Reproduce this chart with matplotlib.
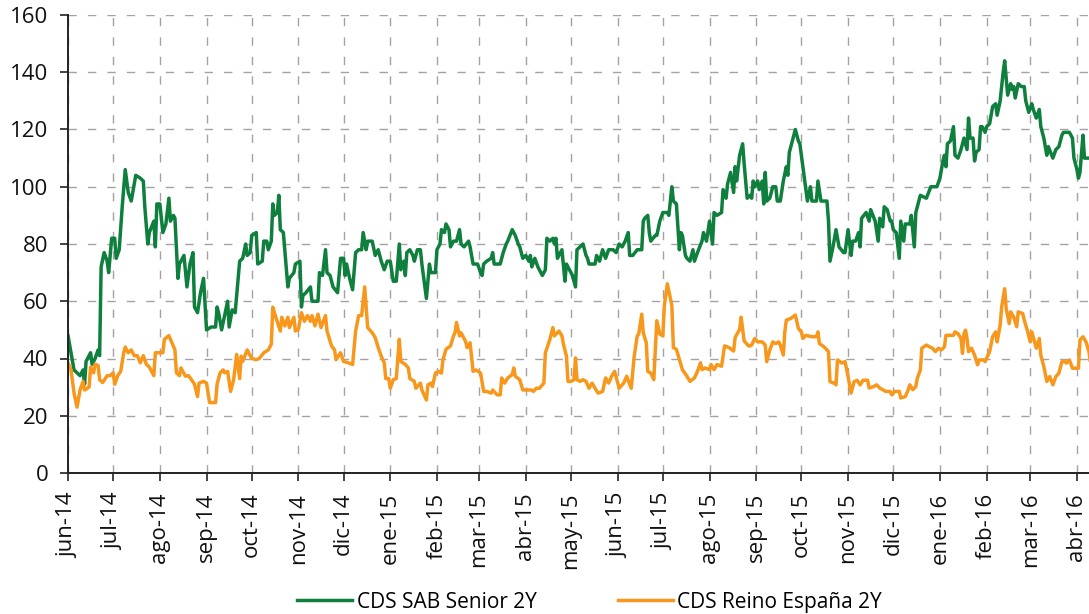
import matplotlib
matplotlib.use('Agg')
import matplotlib.pyplot as plt
import matplotlib.dates as mdates
from matplotlib.ticker import FuncFormatter
import pandas as pd

plt.rcParams['font.family'] = ['Open Sans', 'DejaVu Sans']

start = pd.Timestamp('2014-06-01')
end_days = 678

series_names = ['CDS SAB Senior 2Y', 'CDS Reino España 2Y']
month_labels = ['ene', 'feb', 'mar', 'abr', 'may', 'jun', 'jul', 'ago', 'sep', 'oct', 'nov', 'dic']

# days since 2014-06-01 and values (bp)
sab_days = [0, 4, 6, 8, 10, 11, 12, 15, 16, 18, 20, 21, 22, 24, 26, 27, 29, 31, 32, 34, 36, 38, 40, 42, 43, 45, 48, 50, 51, 53,
            54, 57, 58, 59, 61, 63, 65, 67, 68, 70, 71, 73, 74, 77, 79, 81, 83, 84, 86, 88, 90, 92, 95, 98, 99, 100, 102, 104, 106, 107,
            109, 111, 114, 116, 118, 119, 121, 122, 125, 126, 129, 130, 132, 133, 135, 136, 137, 139, 140, 141, 143, 146, 147, 150, 151, 154, 155, 156, 158, 161,
            162, 166, 167, 169, 171, 172, 174, 176, 179, 181, 183, 184, 185, 187, 189, 191, 193, 195, 196, 198, 199, 202, 204, 206, 208, 210, 212, 214, 216, 218,
            220, 221, 223, 224, 225, 227, 229, 230, 232, 234, 235, 238, 240, 241, 244, 245, 247, 248, 250, 251, 253, 254, 256, 258, 260, 261, 263, 266, 267, 269,
            272, 274, 275, 276, 278, 281, 282, 283, 287, 289, 291, 292, 295, 297, 299, 300, 302, 304, 306, 307, 308, 310, 312, 313, 315, 317, 318, 320, 322, 323,
            324, 325, 327, 328, 330, 331, 333, 335, 337, 338, 340, 342, 344, 345, 346, 350, 351, 353, 355, 357, 359, 362, 364, 366, 368, 370, 372, 373, 375, 378,
            381, 382, 383, 385, 386, 387, 390, 391, 393, 395, 398, 399, 401, 402, 404, 406, 407, 408, 410, 411, 413, 415, 416, 418, 421, 422, 424, 426, 428, 429,
            431, 434, 435, 437, 438, 440, 442, 443, 444, 446, 448, 449, 451, 453, 454, 455, 456, 458, 459, 461, 462, 463, 464, 466, 468, 470, 471, 473, 475, 477,
            478, 479, 481, 483, 485, 486, 488, 490, 491, 493, 494, 497, 498, 500, 501, 504, 505, 506, 508, 510, 512, 515, 516, 518, 520, 521, 523, 525, 526, 527,
            530, 532, 533, 536, 538, 539, 541, 542, 544, 546, 547, 548, 550, 552, 553, 555, 556, 559, 560, 562, 563, 566, 570, 573, 577, 579, 581, 582, 583, 584,
            586, 588, 589, 591, 593, 594, 595, 597, 598, 599, 601, 602, 603, 605, 606, 607, 609, 610, 612, 614, 616, 617, 619, 621, 622, 624, 626, 627, 628, 629,
            631, 633, 635, 636, 638, 640, 641, 643, 645, 646, 648, 650, 651, 654, 656, 658, 660, 661, 663, 665, 667, 668, 670, 671, 672, 674, 675, 677, 679]
sab_cds = [48, 36, 35, 34, 36, 31, 39, 42, 38, 40, 43, 41, 72, 77, 74, 70, 82, 82, 75, 78, 93, 106, 98, 95, 98, 104, 103, 102, 93, 80,
           84, 88, 79, 94, 94, 84, 87, 96, 88, 90, 89, 68, 73, 76, 65, 73, 77, 58, 56, 63, 68, 50, 51, 51, 58, 56, 50, 55, 60, 51,
           57, 56, 74, 75, 80, 76, 77, 83, 84, 73, 74, 81, 81, 78, 81, 94, 90, 91, 97, 85, 84, 65, 68, 70, 73, 74, 58, 62, 63, 65,
           60, 60, 70, 69, 78, 70, 69, 65, 63, 75, 75, 69, 73, 68, 64, 77, 78, 78, 84, 78, 81, 81, 76, 78, 74, 71, 74, 74, 67, 67,
           80, 71, 74, 69, 77, 78, 76, 74, 78, 78, 73, 61, 73, 70, 70, 78, 80, 85, 84, 87, 85, 79, 81, 81, 85, 80, 79, 81, 79, 73,
           73, 70, 69, 73, 74, 75, 77, 73, 73, 77, 80, 81, 85, 83, 80, 79, 75, 76, 74, 76, 72, 75, 72, 71, 69, 71, 82, 81, 82, 80,
           82, 75, 77, 78, 67, 73, 71, 69, 65, 78, 79, 80, 76, 75, 73, 73, 76, 74, 78, 75, 78, 78, 77, 80, 79, 81, 84, 76, 76, 78,
           78, 88, 89, 90, 84, 81, 83, 83, 88, 91, 91, 90, 100, 95, 94, 78, 84, 83, 76, 75, 74, 78, 74, 77, 81, 84, 81, 88, 80, 91,
           90, 91, 99, 96, 101, 105, 98, 107, 102, 111, 115, 108, 96, 97, 96, 102, 100, 102, 99, 102, 94, 105, 95, 96, 100, 100, 95, 95, 102, 107,
           104, 112, 116, 120, 116, 115, 107, 99, 95, 100, 95, 95, 102, 95, 95, 95, 88, 74, 79, 85, 79, 77, 77, 85, 76, 81, 81, 84, 79, 89,
           91, 88, 92, 88, 81, 89, 86, 93, 92, 88, 88, 85, 84, 75, 88, 81, 87, 87, 90, 79, 91, 97, 96, 100, 100, 103, 109, 111, 107, 115,
           116, 121, 111, 110, 113, 115, 117, 113, 124, 117, 117, 109, 112, 113, 121, 121, 119, 121, 122, 128, 129, 125, 130, 140, 144, 132, 136, 134, 135, 131,
           136, 135, 135, 130, 126, 129, 127, 124, 127, 121, 117, 111, 114, 110, 113, 114, 118, 119, 119, 119, 117, 110, 106, 103, 105, 118, 110, 110, 110]

esp_days = [0, 2, 4, 6, 8, 10, 11, 14, 15, 17, 18, 20, 21, 23, 26, 28, 30, 31, 33, 35, 37, 38, 40, 42, 44, 46, 48, 50, 52, 54,
            57, 58, 61, 63, 64, 67, 69, 71, 72, 74, 75, 78, 80, 82, 84, 86, 87, 90, 92, 94, 98, 99, 101, 103, 104, 106, 108, 110, 112, 114,
            115, 116, 119, 122, 125, 127, 130, 133, 135, 136, 138, 141, 142, 144, 146, 147, 150, 151, 153, 155, 157, 159, 161, 162, 164, 166, 168, 171, 172, 175,
            177, 178, 181, 183, 186, 189, 191, 193, 195, 197, 199, 202, 204, 206, 208, 210, 211, 213, 214, 216, 218, 220, 221, 224, 226, 227, 230, 231, 234, 235,
            238, 239, 241, 242, 244, 246, 248, 249, 251, 254, 256, 257, 258, 260, 261, 264, 265, 267, 269, 271, 274, 276, 278, 281, 282, 285, 287, 288, 290, 292,
            295, 296, 297, 300, 302, 305, 308, 309, 311, 313, 316, 317, 320, 322, 323, 326, 328, 329, 331, 332, 334, 336, 337, 338, 340, 342, 344, 346, 348, 350,
            352, 355, 357, 359, 361, 363, 366, 369, 371, 374, 376, 378, 379, 381, 382, 384, 385, 387, 389, 391, 393, 395, 396, 398, 401, 402, 404, 406, 408, 411,
            413, 416, 418, 420, 421, 423, 426, 427, 429, 431, 434, 436, 439, 442, 443, 446, 447, 449, 452, 453, 454, 456, 458, 461, 463, 464, 466, 468, 470, 472,
            473, 475, 476, 477, 480, 483, 485, 487, 488, 490, 494, 497, 498, 499, 502, 505, 506, 509, 510, 511, 514, 516, 518, 520, 522, 524, 526, 528, 531, 532,
            535, 537, 539, 541, 543, 546, 547, 549, 552, 553, 556, 558, 559, 561, 563, 564, 566, 567, 570, 572, 574, 576, 578, 580, 582, 583, 587, 588, 589, 591,
            593, 594, 595, 596, 597, 598, 600, 602, 604, 605, 608, 609, 611, 612, 614, 616, 617, 619, 620, 622, 623, 625, 626, 628, 630, 631, 634, 635, 637, 639,
            640, 643, 645, 646, 648, 650, 652, 654, 656, 658, 660, 662, 663, 665, 667, 671, 672, 674, 676, 678, 679]
esp_cds = [38.5, 36, 28, 23, 29, 32, 29, 30, 37, 35, 38, 37.5, 32.6, 31.6, 34, 34, 35, 31, 34, 35.5, 42, 44, 42, 43, 41, 41, 38.5, 41, 38, 37,
           34, 42, 42, 42, 46.7, 48, 45.5, 43, 35, 34, 36.7, 33.8, 34, 32.6, 31, 26.7, 31.4, 32, 31.4, 24.6, 24.6, 31, 35, 36, 35, 35.5, 28.5, 32.6, 41.4, 33,
           40.8, 39, 43, 40, 39.6, 40, 42, 43, 45, 57.9, 54.4, 49.6, 54.4, 51.4, 54.4, 50.8, 54.4, 49.6, 50.2, 56, 53, 55, 53, 55, 51.4, 55.5, 50.8, 55, 49.6, 44.4,
           43, 39.6, 42, 39, 38.5, 37.9, 49.6, 55, 55, 65, 50.8, 49, 47.3, 43.8, 40.8, 38.5, 33, 33, 29.6, 32.6, 33, 46.7, 39, 37.9, 36.7, 33, 32, 29.6, 31.4, 29,
           25.5, 30.8, 31.4, 30.2, 34.9, 35.5, 34.9, 39.6, 43.2, 44.4, 47.9, 49, 52.6, 47.9, 49, 46, 43.8, 45.5, 35.5, 36, 34.9, 28.5, 28.5, 27.9, 29, 27.3, 27.3, 33.2, 31.4, 33.2,
           34.4, 36.7, 33.8, 32.6, 29, 29, 29, 28.5, 29.6, 29.6, 31.4, 42, 46.7, 50.8, 47.9, 49.6, 47.9, 45, 40.8, 32, 32, 32.6, 40.2, 32.6, 32, 32.6, 32, 29.6, 31.4, 29.6,
           27.9, 28.5, 33.2, 31.4, 33.8, 35.5, 29.6, 31.4, 33.8, 29.6, 40.8, 47.9, 48.5, 55.5, 49, 45.5, 35.5, 34.9, 32.6, 53.2, 48.5, 47.9, 58.5, 66.1, 58.5, 43.8, 43.2, 39.6, 36.1, 33.8,
           32, 33.2, 35.5, 38.5, 36.1, 36.7, 36.1, 37.9, 36.1, 37.9, 37.3, 44.4, 43.8, 42.6, 47.3, 50.2, 54.4, 46.1, 44.4, 44.4, 44.7, 47, 45.8, 45.8, 44.7, 38.9, 42.9, 45.8, 45.2, 45.8,
           44.7, 41.2, 49.3, 53.4, 54, 55.2, 50.5, 49.3, 47, 48.1, 47.6, 47.6, 49.3, 45.2, 44.1, 42.4, 31.9, 31.3, 30.8, 39.5, 38.4, 38.9, 33.7, 27.9, 31.9, 32.4, 30.8, 32.4, 32.4, 29.7,
           30.2, 30.8, 29.7, 29.1, 28.5, 28.5, 27.3, 28.5, 28.5, 26.2, 26.7, 29.1, 30.8, 29.1, 30.2, 33.1, 36, 43.6, 44.7, 44.1, 43.6, 42.4, 43.6, 43, 44.1, 48.1, 48.1, 48.1, 49.3, 48.7,
           47, 41.8, 48.7, 49.9, 47, 42.4, 43.6, 41.2, 37.8, 39.5, 39.5, 38.9, 41.2, 42.4, 47.6, 49.3, 45.8, 51.6, 58, 64.4, 57.4, 52.2, 56.3, 54.5, 51.1, 56.3, 55.7, 53.4, 49.9, 45.8,
           49.3, 43.6, 47, 41.2, 37.2, 32, 33.7, 30.8, 33.7, 34.9, 38.9, 38.9, 38.4, 39.5, 36.6, 36.6, 46.5, 47.6, 45.8, 42.4, 38]

sab_dates = start + pd.to_timedelta(sab_days, unit='D')
esp_dates = start + pd.to_timedelta(esp_days, unit='D')

GREEN = '#0E7F3D'
ORANGE = '#F7981D'

fig = plt.figure(figsize=(10.89, 6.14), dpi=100)
ax = fig.add_axes([68 / 1089, 141 / 614, 1021 / 1089, 458 / 614])

ax.plot(sab_dates, sab_cds, color=GREEN, lw=2.5, label=series_names[0])
ax.plot(esp_dates, esp_cds, color=ORANGE, lw=2.5, label=series_names[1])

ax.set_ylim(0, 160)
ax.set_yticks(range(0, 161, 20))
ax.set_xlim(start, start + pd.Timedelta(days=end_days))
ax.xaxis.set_major_locator(mdates.MonthLocator())


def fmt(x, pos):
    d = mdates.num2date(x)
    return f"{month_labels[d.month - 1]}-{d:%y}"


ax.xaxis.set_major_formatter(FuncFormatter(fmt))

ax.grid(True, color='#a3a3a3', linestyle=(0, (6, 8)), lw=1.0)
ax.set_axisbelow(True)
for s in ['top', 'right']:
    ax.spines[s].set_visible(False)
for s in ['left', 'bottom']:
    ax.spines[s].set_color('#222222')
    ax.spines[s].set_linewidth(1.4)

ax.tick_params(axis='both', direction='out', length=5.5, width=1.2, color='#222222',
               labelsize=16, labelcolor='#111111', pad=8.8)
for lab in ax.get_xticklabels():
    lab.set_rotation(90)

fig.legend(loc='center', bbox_to_anchor=(0.5413, 0.0195), ncol=2, frameon=False, fontsize=15,
           handlelength=2.64, handletextpad=0.2, columnspacing=3.9)

fig.savefig('out.png', dpi=100)
